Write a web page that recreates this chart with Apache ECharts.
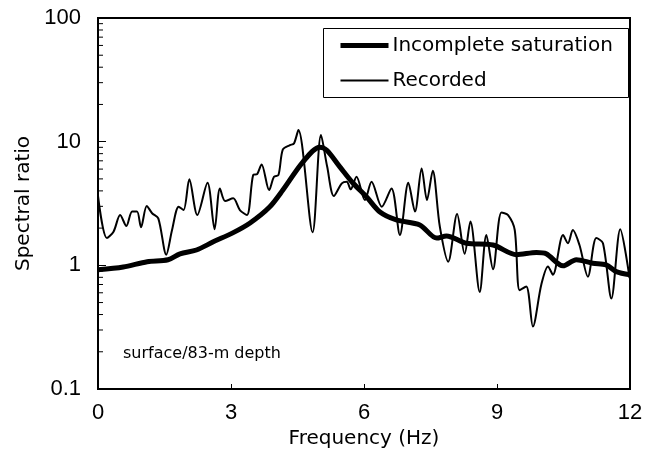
<!DOCTYPE html>
<html><head><meta charset="utf-8">
<script src="https://cdn.jsdelivr.net/npm/echarts@6/dist/echarts.min.js"></script>
<style>html,body{margin:0;padding:0;background:#fff}#c{width:654px;height:463px}</style>
</head><body><div id="c"></div>
<script>
const recordedFreq = [0.00,0.20,0.35,0.50,0.64,0.77,0.88,0.97,1.10,1.22,1.36,1.54,1.67,1.82,1.93,2.06,2.24,2.47,2.63,2.75,2.87,3.05,3.20,3.36,3.50,3.59,3.69,3.86,3.97,4.07,4.17,4.33,4.42,4.52,4.84,5.03,5.17,5.32,5.50,5.61,5.70,5.83,6.02,6.17,6.40,6.62,6.81,7.00,7.15,7.30,7.42,7.55,7.71,7.90,8.10,8.27,8.40,8.61,8.76,8.91,9.10,9.25,9.40,9.51,9.66,9.81,10.00,10.15,10.26,10.49,10.60,10.71,10.86,11.05,11.24,11.39,11.58,11.78,11.99];
const recordedRatio = [3.64,1.66,1.87,2.55,2.08,2.72,2.72,2.03,3.02,2.64,2.40,1.22,1.93,2.98,2.80,4.96,2.55,4.65,1.96,4.19,3.31,3.48,2.80,2.55,5.37,5.47,6.55,4.06,5.20,5.37,8.65,9.37,9.67,12.4,1.85,11.3,6.26,3.64,4.60,4.74,4.12,5.20,3.37,4.74,2.98,4.19,1.76,4.65,2.72,6.08,3.37,5.81,2.06,1.07,2.60,1.24,2.26,0.61,1.76,0.93,2.67,2.55,1.93,0.63,0.675,0.32,0.70,0.98,0.84,1.76,1.51,1.93,1.46,0.81,1.66,1.51,0.54,1.96,0.79];
const modelFreq = [0,0.57,1.11,1.58,1.85,2.22,2.60,3.04,3.43,3.87,4.17,4.62,5.00,5.16,5.46,5.75,6.06,6.36,6.73,7.26,7.64,7.86,8.31,8.91,9.44,9.89,10.11,10.49,10.79,11.16,11.46,11.69,12];
const modelRatio = [0.92,0.97,1.07,1.11,1.24,1.33,1.55,1.83,2.20,2.96,4.06,6.83,9.03,8.52,6.23,4.63,3.57,2.70,2.33,2.12,1.66,1.73,1.51,1.46,1.22,1.27,1.24,0.99,1.11,1.04,1.01,0.89,0.84];
const xTicks = [0,3,6,9,12];
const yTicks = [0.1,1,10,100];
const seriesNames = ['Incomplete saturation','Recorded'];
const annotation = 'surface/83-m depth';
const xTitle = 'Frequency (Hz)';
const yTitle = 'Spectral ratio';

const minorVals = [];
for (let d = 0; d < yTicks.length - 1; d++) {
  for (let m = 2; m <= 9; m++) minorVals.push([0, Number((yTicks[d] * m).toPrecision(3))]);
}

const chart = echarts.init(document.getElementById('c'), null, {renderer: 'canvas'});
const tickFont = {fontFamily: 'Liberation Sans', fontSize: 22, color: '#000'};
const legendFont = {fontFamily: 'DejaVu Sans', fontSize: 20, fill: '#000', verticalAlign: 'middle', align: 'left'};
chart.setOption({
  animation: false,
  backgroundColor: '#fff',
  grid: {left: 98, right: 24, top: 18, bottom: 74, show: true, borderColor: '#000', borderWidth: 2, backgroundColor: 'transparent'},
  xAxis: {
    type: 'value', min: xTicks[0], max: xTicks[xTicks.length - 1], interval: 3,
    name: xTitle, nameLocation: 'middle', nameGap: 36,
    nameTextStyle: {fontFamily: 'DejaVu Sans', fontSize: 20, color: '#000'},
    axisLine: {lineStyle: {color: '#000', width: 2}},
    axisTick: {inside: true, length: 5, lineStyle: {color: '#000', width: 1}},
    axisLabel: Object.assign({margin: 13}, tickFont),
    splitLine: {show: false}
  },
  yAxis: {
    type: 'log', logBase: 10, min: yTicks[0], max: yTicks[yTicks.length - 1],
    name: yTitle, nameLocation: 'middle', nameGap: 62,
    nameTextStyle: {fontFamily: 'DejaVu Sans', fontSize: 20, color: '#000'},
    axisLine: {lineStyle: {color: '#000', width: 2}},
    axisTick: {inside: true, length: 8, lineStyle: {color: '#000', width: 1}},
    axisLabel: Object.assign({margin: 17, formatter: v => String(Number(Number(v).toPrecision(2)))}, tickFont),
    splitLine: {show: false}
  },
  series: [
    {
      name: seriesNames[0], type: 'line', symbol: 'none', smooth: 0.3,
      lineStyle: {color: '#000', width: 5}, itemStyle: {color: '#000'},
      data: modelFreq.map((f, i) => [f, modelRatio[i]]), z: 3
    },
    {
      name: seriesNames[1], type: 'line', symbol: 'none', smooth: 0.3,
      lineStyle: {color: '#000', width: 2}, itemStyle: {color: '#000'},
      data: recordedFreq.map((f, i) => [f, recordedRatio[i]]), z: 2
    },
    {
      name: 'minor ticks', type: 'custom', silent: true, clip: false,
      data: minorVals,
      renderItem: (params, api) => {
        const p = api.coord([api.value(0), api.value(1)]);
        return {type: 'line', shape: {x1: p[0], y1: p[1], x2: p[0] + 5, y2: p[1]}, style: {stroke: '#000', lineWidth: 1}};
      }
    }
  ],
  graphic: [
    {type: 'text', left: 123, top: 346, style: {text: annotation, fontFamily: 'DejaVu Sans', fontSize: 16, fill: '#000'}},
    {type: 'group', left: 323, top: 28, z: 100, children: [
      {type: 'rect', shape: {x: 0, y: 0, width: 305, height: 69}, style: {fill: '#fff', stroke: '#000', lineWidth: 1}},
      {type: 'line', shape: {x1: 17, y1: 17, x2: 65, y2: 17}, style: {stroke: '#000', lineWidth: 5}},
      {type: 'text', x: 69, y: 17, style: Object.assign({text: seriesNames[0]}, legendFont)},
      {type: 'line', shape: {x1: 17, y1: 52, x2: 65, y2: 52}, style: {stroke: '#000', lineWidth: 2}},
      {type: 'text', x: 69, y: 52, style: Object.assign({text: seriesNames[1]}, legendFont)}
    ]}
  ]
});
</script></body></html>
